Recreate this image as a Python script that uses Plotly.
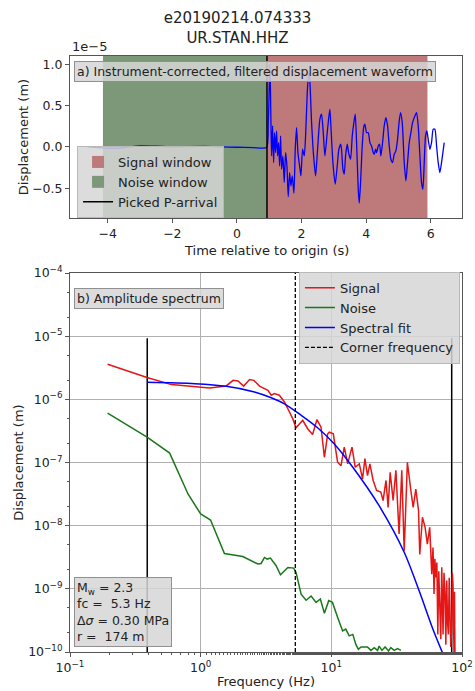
import plotly.graph_objects as go

# ---------------- data ----------------
TITLE_LINES = ["e20190214.074333", "UR.STAN.HHZ"]

# Waveform (time in s, displacement in units of 1e-5 m)
wave_t = [-4.63, -4.0, -3.5, -3.0, -2.5, -2.0, -1.5, -1.0, -0.5, 0.0, 0.5, 0.918,
          0.970, 1.022, 1.053, 1.073, 1.104, 1.135, 1.166, 1.197, 1.228, 1.259, 1.290,
          1.321, 1.352, 1.383, 1.424, 1.465, 1.507, 1.548, 1.589, 1.631, 1.672, 1.713,
          1.765, 1.806, 1.847, 1.889, 1.940, 1.981, 2.033, 2.085, 2.126, 2.178, 2.225,
          2.260, 2.312, 2.374, 2.436, 2.497, 2.570, 2.621, 2.673, 2.724, 2.786, 2.838,
          2.879, 2.920, 2.972, 3.044, 3.106, 3.158, 3.220, 3.282, 3.323, 3.364, 3.416,
          3.457, 3.519, 3.571, 3.622, 3.664, 3.705, 3.757, 3.788, 3.829, 3.880, 3.932,
          3.963, 4.014, 4.066, 4.118, 4.169, 4.221, 4.252, 4.293, 4.324, 4.376, 4.417,
          4.458, 4.510, 4.561, 4.613, 4.665, 4.716, 4.768, 4.820, 4.871, 4.923, 4.974,
          5.026, 5.067, 5.119, 5.181, 5.232, 5.284, 5.335, 5.387, 5.439, 5.511, 5.563,
          5.614, 5.666, 5.717, 5.759, 5.800, 5.841, 5.882, 5.924, 5.975, 6.027, 6.078,
          6.130, 6.182, 6.233, 6.285, 6.336, 6.378, 6.419]
wave_v = [0.0, -0.016, -0.010, 0.012, 0.008, 0.0, 0.004, 0.006, 0.0, -0.004, -0.008, -0.008,
          0.294, 1.000, 0.294, -0.109, 0.254, -0.189, 0.173, -0.069, 0.193, -0.109, 0.052,
          -0.230, 0.133, -0.270, -0.109, -0.431, -0.069, -0.230, -0.600, -0.310, -0.472, -0.351,
          -0.560, -0.028, 0.234, -0.069, -0.230, -0.351, -0.028, -0.109, 0.133, 0.657, 0.910,
          0.778, 0.294, -0.109, -0.351, -0.028, 0.335, 0.395, 0.173, -0.109, 0.133, 0.335,
          0.455, 0.173, -0.189, -0.451, -0.230, -0.028, 0.032, -0.270, -0.330, -0.109, 0.032,
          -0.069, -0.149, 0.133, 0.294, 0.395, 0.052, -0.512, -0.680, -0.431, 0.012, 0.254,
          0.274, 0.173, 0.173, 0.052, 0.012, -0.069, -0.089, -0.028, -0.069, 0.012, 0.032,
          -0.109, 0.052, 0.254, 0.355, 0.254, 0.012, -0.149, -0.189, -0.089, -0.048, 0.093,
          0.315, 0.415, 0.294, -0.189, -0.411, -0.189, 0.052, 0.173, 0.294, 0.375, 0.415,
          0.254, -0.109, -0.431, -0.512, -0.189, 0.133, 0.193, 0.093, -0.028, 0.052, 0.214,
          0.214, 0.012, -0.189, -0.310, -0.189, -0.069, 0.052]

NOISE_WINDOW = [-4.15, 0.93]
SIGNAL_WINDOW = [0.93, 5.90]
P_ARRIVAL = 0.93

# Spectra (frequency Hz, displacement m)
sig_f = [0.194, 0.389, 0.597, 1.17, 1.57, 1.77, 1.93, 2.13, 2.37, 2.55, 2.82, 3.27, 3.47,
         3.67, 4.0, 4.38, 4.78, 5.07, 5.37, 6.04, 6.59, 7.19, 7.76, 8.34, 8.85, 9.38, 9.66,
         10.35, 11.17, 11.86, 12.56, 13.34, 14.39, 15.24, 16.37, 17.34, 18.07, 18.92, 19.72,
         20.9, 22.2, 23.9, 24.9, 26.2, 27.2, 28.2, 29.7, 31.2, 33.0, 34.6, 36.1, 38.2, 40.6,
         42.3, 44.3, 46.5, 47.5, 49.8, 52.2, 54.3, 56.6, 58.7, 60.0, 61.1, 62.0, 63.0, 64.2,
         65.3, 66.4, 67.6, 68.8, 70.0, 70.8, 71.6, 72.8, 74.1, 75.2, 76.4, 77.5, 78.7, 79.8,
         80.9, 82.1, 83.4, 84.3, 85.3, 86.1, 86.9, 87.6, 88.4]
sig_a = [3.60e-6, 2.21e-6, 1.71e-6, 1.51e-6, 1.63e-6, 2.0e-6, 1.95e-6, 1.62e-6, 2.06e-6,
         2.0e-6, 1.62e-6, 1.39e-6, 1.16e-6, 1.23e-6, 1.16e-6, 9.1e-7, 6.3e-7, 4.9e-7, 3.55e-7,
         4.65e-7, 3.43e-7, 2.78e-7, 4.79e-7, 3.63e-7, 1.21e-7, 2.85e-7, 3.02e-7, 2.85e-7,
         1.01e-7, 8.9e-8, 1.75e-7, 9.5e-8, 1.75e-7, 8.4e-8, 9.5e-8, 5.5e-8, 1.15e-7, 6.2e-8,
         9.5e-8, 5.2e-8, 3.6e-8, 3.4e-8, 2.5e-8, 5.2e-8, 1.95e-8, 7.0e-8, 2.5e-8, 7.5e-8,
         7.4e-9, 7.5e-8, 4.0e-9, 1.01e-7, 3.6e-8, 1.95e-8, 3.8e-8, 1.73e-8, 3.5e-9, 1.36e-8,
         9.4e-9, 5.1e-9, 9.4e-9, 1.71e-9, 4.5e-9, 8.3e-10, 3.0e-9, 1.51e-9, 2.6e-9, 1.9e-10,
         1.9e-9, 6.5e-10, 1.6e-10, 2.19e-9, 7.0e-10, 1.9e-10, 1.8e-9, 8.3e-10, 1.3e-10,
         1.35e-9, 3.0e-10, 1.9e-10, 1.5e-9, 6.5e-10, 1.2e-10, 2.4e-10, 1.8e-9, 1.19e-9,
         1.5e-10, 9.3e-11, 9.0e-10, 8.0e-11]

noise_f = [0.194, 0.389, 0.579, 0.80, 1.0, 1.19, 1.52, 2.10, 2.74, 2.90, 3.08, 3.23, 3.42,
           3.78, 4.08, 4.65, 5.15, 5.37, 5.87, 6.41, 7.0, 7.64, 8.24, 8.85, 9.55, 10.2, 11.2,
           12.2, 12.9, 13.7, 14.6, 15.4, 16.1, 16.9, 18.9, 20.1, 21.3, 22.6, 23.2, 24.4, 25.8,
           27.4, 28.5, 30.3, 32.1, 34.1]
noise_a = [6.07e-7, 2.52e-7, 1.41e-7, 3.18e-8, 1.53e-8, 1.23e-8, 3.63e-9, 3.24e-9, 2.47e-9,
           2.52e-9, 3.14e-9, 2.96e-9, 3.07e-9, 2.32e-9, 1.67e-9, 2.18e-9, 2.13e-9, 1.82e-9,
           8.2e-10, 6.6e-10, 7.7e-10, 6.1e-10, 6.9e-10, 4.1e-10, 6.5e-10, 6.1e-10, 3.5e-10,
           2.15e-10, 2.3e-10, 1.8e-10, 1.9e-10, 1.32e-10, 1.1e-10, 1.2e-10, 1.2e-10, 1.06e-10,
           1.17e-10, 1.06e-10, 1.24e-10, 1.06e-10, 1.2e-10, 1.04e-10, 1.17e-10, 1.06e-10,
           1.13e-10, 1.06e-10]

fit_f = [0.389, 0.90, 1.57, 2.58, 3.47, 4.38, 5.87, 7.85, 10.5, 14.6, 23.2, 36.1, 47.0, 59.3, 70.8]
fit_a = [1.86e-6, 1.77e-6, 1.61e-6, 1.31e-6, 1.06e-6, 8.5e-7, 5.6e-7, 3.55e-7, 1.98e-7,
         8.4e-8, 2.07e-8, 3.8e-9, 9.3e-10, 2.43e-10, 9.8e-11]

FREQ_BAND = [0.39, 83.4]
BAND_LINE_AMP = [1e-10, 9.3e-6]
CORNER_FREQ = 5.3
PARAM_TEXT = ["M<sub>w</sub> = 2.3", "fc =\u00a0\u00a05.3 Hz", "Δ<i>σ</i> = 0.30 MPa", "r =\u00a0\u00a0174 m"]

top_xticks = [-4, -2, 0, 2, 4, 6]
top_yticks = [-0.5, 0.0, 0.5, 1.0]
log_xticks = [0.1, 1, 10, 100]
log_xtext = ["10<sup>−1</sup>", "10<sup>0</sup>", "10<sup>1</sup>", "10<sup>2</sup>"]
log_yticks = [1e-10, 1e-9, 1e-8, 1e-7, 1e-6, 1e-5, 1e-4]
log_ytext = ["10<sup>−10</sup>", "10<sup>−9</sup>", "10<sup>−8</sup>", "10<sup>−7</sup>",
             "10<sup>−6</sup>", "10<sup>−5</sup>", "10<sup>−4</sup>"]

# ---------------- figure ----------------
FONT = "DejaVu Sans"
AX = "#555555"
LW = 1.5
fig = go.Figure()

fig.add_shape(type="rect", xref="x", yref="y domain", x0=SIGNAL_WINDOW[0], x1=SIGNAL_WINDOW[1],
              y0=0, y1=1, fillcolor="rgb(190,122,122)", line_width=0, layer="below",
              showlegend=True, legend="legend", name="Signal window", legendrank=1)
fig.add_shape(type="rect", xref="x", yref="y domain", x0=NOISE_WINDOW[0], x1=NOISE_WINDOW[1],
              y0=0, y1=1, fillcolor="rgb(124,152,120)", line_width=0, layer="below",
              showlegend=True, legend="legend", name="Noise window", legendrank=2)
fig.add_shape(type="line", xref="x", yref="y domain", x0=P_ARRIVAL, x1=P_ARRIVAL,
              y0=0, y1=1, line=dict(color="black", width=LW),
              showlegend=True, legend="legend", name="Picked P-arrival", legendrank=3)

fig.add_trace(go.Scatter(x=wave_t, y=wave_v, mode="lines", xaxis="x", yaxis="y",
                         line=dict(color="blue", width=1.3, shape="spline", smoothing=0.6),
                         showlegend=False, cliponaxis=True))

fig.add_trace(go.Scatter(x=[FREQ_BAND[0], FREQ_BAND[0]], y=BAND_LINE_AMP, mode="lines",
                         xaxis="x2", yaxis="y2", line=dict(color="black", width=LW), showlegend=False))
fig.add_trace(go.Scatter(x=[FREQ_BAND[1], FREQ_BAND[1]], y=BAND_LINE_AMP, mode="lines",
                         xaxis="x2", yaxis="y2", line=dict(color="black", width=LW), showlegend=False))
fig.add_trace(go.Scatter(x=sig_f, y=sig_a, mode="lines", xaxis="x2", yaxis="y2", name="Signal",
                         line=dict(color="rgb(228,22,22)", width=LW), legend="legend2", legendrank=1))
fig.add_trace(go.Scatter(x=noise_f, y=noise_a, mode="lines", xaxis="x2", yaxis="y2", name="Noise",
                         line=dict(color="rgb(25,120,25)", width=LW), legend="legend2", legendrank=2))
fig.add_trace(go.Scatter(x=fit_f, y=fit_a, mode="lines", xaxis="x2", yaxis="y2", name="Spectral fit",
                         line=dict(color="blue", width=LW, shape="spline", smoothing=0.8),
                         legend="legend2", legendrank=3))
fig.add_trace(go.Scatter(x=[CORNER_FREQ, CORNER_FREQ], y=[1e-10, 1e-4], mode="lines", xaxis="x2", yaxis="y2",
                         name="Corner frequency", line=dict(color="black", width=1.3, dash="4px,2px"),
                         legend="legend2", legendrank=4))

axis_common = dict(showline=True, mirror=True, linecolor=AX, linewidth=1, ticks="outside",
                   ticklen=4, tickcolor=AX, zeroline=False, automargin=False,
                   tickfont=dict(family=FONT, size=12.5, color="#222"))

TOP_DOM = [0.7282, 1.0]
BOT_DOM = [0.0, 0.6359]

fig.update_layout(
    width=475, height=691,
    margin=dict(l=70, r=13, t=56, b=39, autoexpand=False),
    paper_bgcolor="white", plot_bgcolor="white",
    font=dict(family=FONT, size=12.5, color="#222"),
    title=dict(text="<br>".join(TITLE_LINES), x=0.5, xref="container", xanchor="center",
               y=1 - 23 / 691, yref="container", yanchor="middle",
               font=dict(family=FONT, size=15, color="#222")),
    xaxis=dict(domain=[0, 1], anchor="y", range=[-5.17, 6.97], tickvals=top_xticks,
               showgrid=False, **axis_common),
    yaxis=dict(domain=TOP_DOM, anchor="x", range=[-0.86, 1.10], tickvals=top_yticks,
               tickformat=".1f", showgrid=False,
               title=dict(text="Displacement (m)", standoff=0,
                          font=dict(family=FONT, size=13)), **axis_common),
    xaxis2=dict(domain=[0, 1], anchor="y2", type="log", range=[-1, 2], tickvals=log_xticks,
                ticktext=log_xtext, showgrid=True, gridcolor="#b0b0b0", gridwidth=1.2,
                minor=dict(ticks="outside", ticklen=2, tickcolor=AX, showgrid=False),
                title=dict(text="Frequency (Hz)", standoff=2, font=dict(family=FONT, size=13)),
                **axis_common),
    yaxis2=dict(domain=BOT_DOM, anchor="x2", type="log", range=[-10, -4], tickvals=log_yticks,
                ticktext=log_ytext, showgrid=True, gridcolor="#b0b0b0", gridwidth=1.2,
                minor=dict(ticks="outside", ticklen=2, tickcolor=AX, showgrid=False),
                title=dict(text="Displacement (m)", standoff=1, font=dict(family=FONT, size=13)),
                **axis_common),
    legend=dict(x=0.018, y=0.849, xref="paper", yref="paper", xanchor="left", yanchor="top",
                bgcolor="rgba(214,214,214,0.85)", bordercolor="#b8b8b8", borderwidth=1,
                font=dict(family=FONT, size=13, color="#222"), tracegroupgap=0, itemwidth=30),
    legend2=dict(x=0.584, y=0.638, xref="paper", yref="paper", xanchor="left", yanchor="top",
                 bgcolor="rgba(214,214,214,0.85)", bordercolor="#b8b8b8", borderwidth=1,
                 font=dict(family=FONT, size=13, color="#222"), tracegroupgap=0, itemwidth=30),
)

box = dict(bgcolor="rgba(214,214,214,0.85)", bordercolor="#909090", borderwidth=1, borderpad=2,
           font=dict(family=FONT, size=12.5, color="#222"), showarrow=False)
fig.add_annotation(text="a) Instrument-corrected, filtered displacement waveform",
                   xref="x domain", yref="y domain", x=0.01, y=0.969, xanchor="left", yanchor="top", **box)
fig.add_annotation(text="b) Amplitude spectrum",
                   xref="x2 domain", yref="y2 domain", x=0.01, y=0.960, xanchor="left", yanchor="top", **box)
fig.add_annotation(text="<br>".join(PARAM_TEXT), align="left",
                   xref="x2 domain", yref="y2 domain", x=0.01, y=0.012, xanchor="left", yanchor="bottom", **box)
fig.add_annotation(text="1e−5", xref="x domain", yref="y domain", x=0.0, y=1.0,
                   xanchor="left", yanchor="bottom", showarrow=False,
                   font=dict(family=FONT, size=13, color="#222"))
fig.add_annotation(text="Time relative to origin (s)", xref="x domain", yref="paper",
                   x=0.5, y=(652 - 250) / 596, xanchor="center", yanchor="middle", showarrow=False,
                   font=dict(family=FONT, size=13, color="#222"))

fig.write_html("out.html")
